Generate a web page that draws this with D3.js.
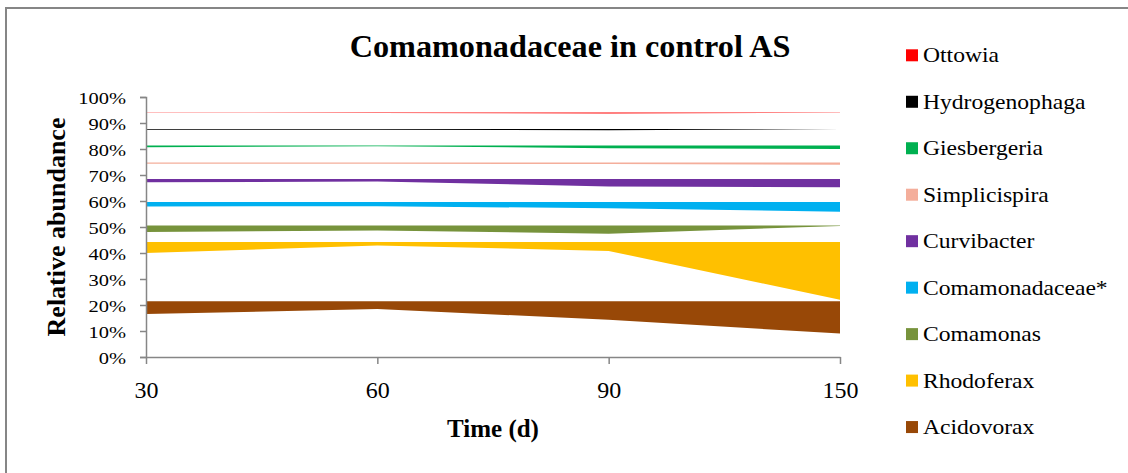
<!DOCTYPE html>
<html>
<head>
<meta charset="utf-8">
<script src="https://cdn.jsdelivr.net/npm/d3@7"></script>
<style>
  html, body { margin: 0; padding: 0; background: #fff; }
  svg { display: block; }
</style>
</head>
<body>
<svg id="chart" width="1128" height="473"></svg>
<script>
// Sampling days
const times = ["30", "60", "90", "150"];

// Genera, legend order (top of chart first)
const genera = ["Ottowia", "Hydrogenophaga", "Giesbergeria", "Simplicispira", "Curvibacter",
                "Comamonadaceae*", "Comamonas", "Rhodoferax", "Acidovorax"];
const colors = ["#FF0000", "#000000", "#00B050", "#F4AE9B", "#7030A0",
                "#00B0F0", "#77933C", "#FFC000", "#984807"];

// Fixed upper level of each genus band (fraction)
const ceilings = [0.940, 0.877, 0.813, 0.748, 0.685, 0.596, 0.506, 0.442, 0.214];

// Relative abundance of each genus at 30, 60, 90, 150 d (fraction)
const ottowia        = [0.0002, 0.0015, 0.0035, 0.0002];
const hydrogenophaga = [0.0025, 0.0030, 0.0045, 0.0005];
const giesbergeria   = [0.006, 0.002, 0.010, 0.013];
const simplicispira  = [0.005, 0.005, 0.006, 0.009];
const curvibacter    = [0.013, 0.010, 0.029, 0.032];
const comamonadaceae = [0.017, 0.016, 0.024, 0.037];
const comamonas      = [0.025, 0.019, 0.032, 0.002];
const rhodoferax     = [0.042, 0.013, 0.034, 0.222];
const acidovorax     = [0.049, 0.029, 0.071, 0.124];

const abundances = [ottowia, hydrogenophaga, giesbergeria, simplicispira, curvibacter,
                    comamonadaceae, comamonas, rhodoferax, acidovorax];

const yTicks = d3.range(0, 1.0001, 0.1);

const serif = "'Liberation Serif', 'Times New Roman', serif";
const svg = d3.select("#chart");
const axisColor = "#868686";

// outer frame
svg.append("rect")
  .attr("x", 6).attr("y", 8).attr("width", 1140).attr("height", 480)
  .attr("fill", "none").attr("stroke", axisColor).attr("stroke-width", 2);

const x = d3.scalePoint().domain(times).range([146, 840]);
const y = d3.scaleLinear().domain([0, 1]).range([357, 97]);

// bands
const area = d3.area()
  .x((d, i) => x(times[i]))
  .y0(d => y(d.lo))
  .y1(d => y(d.hi));

const bands = svg.append("g");
genera.forEach((g, k) => {
  const pts = abundances[k].map(v => ({ lo: ceilings[k] - v, hi: ceilings[k] }));
  bands.append("path")
    .datum(pts)
    .attr("d", area)
    .attr("fill", colors[k]);
});

// y axis
const yAxis = svg.append("g")
  .attr("transform", "translate(146,0)")
  .call(d3.axisLeft(y).tickValues(yTicks).tickFormat(d3.format(".0%")).tickSize(6).tickPadding(14));
yAxis.select(".domain").attr("stroke", axisColor).attr("stroke-width", 1.5);
yAxis.selectAll(".tick line").attr("stroke", axisColor).attr("stroke-width", 1.5);
const ySx = 1.17;
yAxis.selectAll(".tick text")
  .style("font-family", serif).style("font-size", "17.5px").attr("fill", "#000")
  .attr("x", -20 / ySx).attr("dy", "0.36em")
  .attr("transform", `scale(${ySx},1)`);

// x axis
const xAxis = svg.append("g")
  .attr("transform", "translate(0,357)")
  .call(d3.axisBottom(x).tickSize(7).tickSizeOuter(0).tickPadding(0));
xAxis.select(".domain").attr("stroke", axisColor).attr("stroke-width", 1.5);
xAxis.selectAll(".tick line").attr("stroke", axisColor).attr("stroke-width", 1.5);
xAxis.selectAll(".tick text")
  .style("font-family", serif).style("font-size", "24px").attr("fill", "#000")
  .attr("y", 41).attr("dy", 0);

// title
svg.append("text")
  .attr("transform", "translate(570,57) scale(1.04,1)")
  .attr("text-anchor", "middle")
  .style("font-family", serif).style("font-size", "31px").style("font-weight", "bold")
  .text("Comamonadaceae in control AS");

// axis titles
svg.append("text")
  .attr("x", 493).attr("y", 437)
  .attr("text-anchor", "middle")
  .style("font-family", serif).style("font-size", "25px").style("font-weight", "bold")
  .text("Time (d)");

svg.append("text")
  .attr("transform", "translate(65,227) rotate(-90)")
  .attr("text-anchor", "middle")
  .style("font-family", serif).style("font-size", "26px").style("font-weight", "bold")
  .text("Relative abundance");

// legend
const legend = svg.append("g");
genera.forEach((g, k) => {
  const top = 49.3 + k * 46.47;
  legend.append("rect")
    .attr("x", 906).attr("y", top).attr("width", 12).attr("height", 12)
    .attr("fill", colors[k]);
  legend.append("text")
    .attr("transform", `translate(923,${top + 13}) scale(1.18,1)`)
    .style("font-family", serif).style("font-size", "20px")
    .text(g);
});
</script>
</body>
</html>
